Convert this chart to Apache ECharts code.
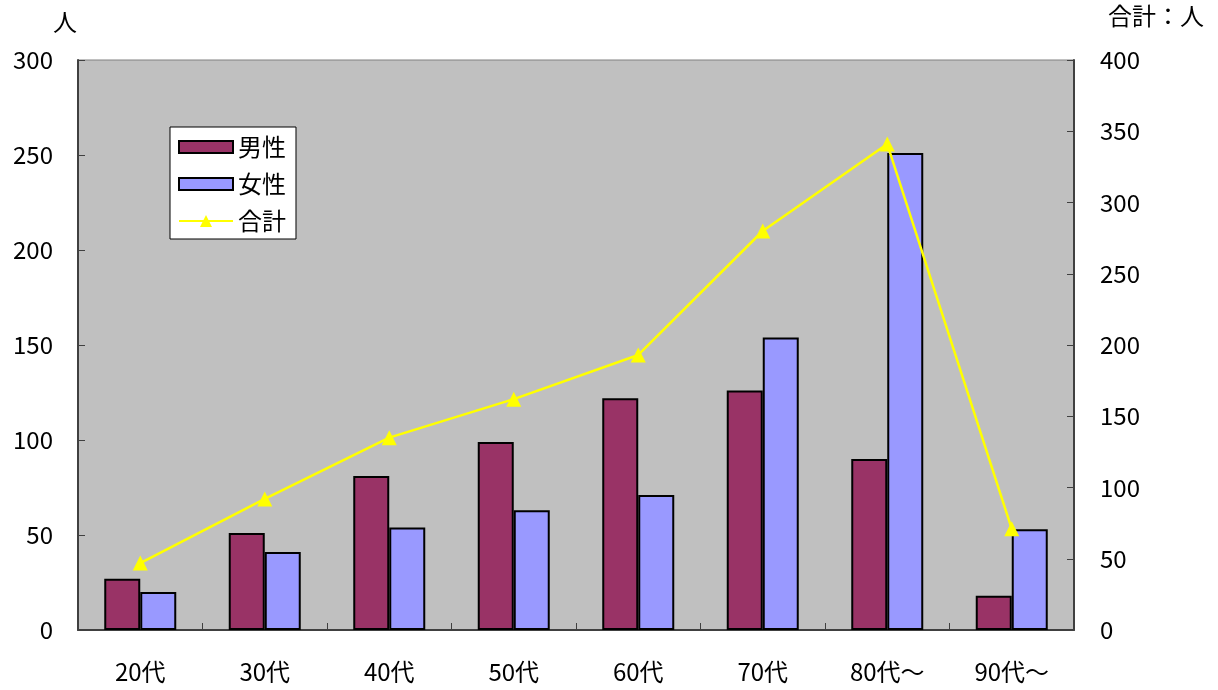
<!DOCTYPE html>
<html>
<head>
<meta charset="utf-8">
<script src="https://cdn.jsdelivr.net/npm/echarts@6/dist/echarts.min.js"></script>
<style>
html,body{margin:0;padding:0;background:#fff;}
#c{width:1218px;height:690px;}
</style>
</head>
<body>
<div id="c"></div>
<script>
const categories = ['20代','30代','40代','50代','60代','70代','80代～','90代～'];
const male = [27, 51, 81, 99, 122, 126, 90, 18];
const female = [20, 41, 54, 63, 71, 154, 251, 53];
const total = [47, 92, 135, 162, 193, 280, 341, 71];
const leftTicks = {min: 0, max: 300, interval: 50};
const rightTicks = {min: 0, max: 400, interval: 50};

const FONT = '"Noto Sans CJK JP", "Noto Sans", sans-serif';
const LINE_ICON = 'path://M0,5L24.5,5L27,0L29.5,5L54,5L54,7L30.5,7L33,12L21,12L23.5,7L0,7Z';
const chart = echarts.init(document.getElementById('c'), null, {renderer: 'canvas'});
const axisLineStyle = {color: '#404040', width: 2};
chart.setOption({
  animation: false,
  backgroundColor: '#ffffff',
  textStyle: {fontFamily: FONT},
  grid: {
    left: 78, right: 144, top: 60, bottom: 60,
    show: true, backgroundColor: '#C0C0C0', borderColor: '#808080', borderWidth: 1
  },
  legend: {
    orient: 'vertical',
    left: 170, top: 127,
    backgroundColor: '#ffffff',
    borderColor: '#000000', borderWidth: 1,
    padding: [8, 10, 6, 8],
    itemWidth: 54, itemHeight: 12, itemGap: 13,
    textStyle: {fontSize: 24, color: '#000', fontFamily: FONT, lineHeight: 24},
    data: [
      {name: '男性', icon: 'rect'},
      {name: '女性', icon: 'rect'},
      {name: '合計', icon: LINE_ICON, itemStyle: {color: '#FFFF00', borderWidth: 0}}
    ]
  },
  graphic: [
    {type: 'text', left: 53, top: 10, style: {text: '人', fill: '#000', font: '24px ' + FONT}},
    {type: 'text', left: 1108, top: 4, style: {text: '合計：人', fill: '#000', font: '24px ' + FONT}}
  ],
  xAxis: {
    type: 'category',
    data: categories,
    boundaryGap: true,
    axisLine: {lineStyle: axisLineStyle},
    axisTick: {show: true, inside: true, length: 7, lineStyle: {color: '#404040', width: 1}},
    axisLabel: {fontSize: 24, color: '#000', margin: 30, fontFamily: FONT}
  },
  yAxis: [
    {
      type: 'value', position: 'left',
      min: leftTicks.min, max: leftTicks.max, interval: leftTicks.interval,
      axisLine: {show: true, lineStyle: axisLineStyle},
      axisTick: {show: true, inside: true, length: 7, lineStyle: {color: '#404040', width: 1}},
      axisLabel: {fontSize: 24, color: '#000', margin: 25, fontFamily: FONT},
      splitLine: {show: false}
    },
    {
      type: 'value', position: 'right',
      min: rightTicks.min, max: rightTicks.max, interval: rightTicks.interval,
      axisLine: {show: true, lineStyle: axisLineStyle},
      axisTick: {show: true, inside: true, length: 7, lineStyle: {color: '#404040', width: 1}},
      axisLabel: {fontSize: 24, color: '#000', margin: 26, fontFamily: FONT},
      splitLine: {show: false}
    }
  ],
  series: [
    {
      name: '男性', type: 'bar', data: male, yAxisIndex: 0,
      barWidth: 36, barGap: '0%',
      itemStyle: {color: '#993366', borderColor: '#000', borderWidth: 2}
    },
    {
      name: '女性', type: 'bar', data: female, yAxisIndex: 0,
      barWidth: 36, barGap: '0%',
      itemStyle: {color: '#9999FF', borderColor: '#000', borderWidth: 2}
    },
    {
      name: '合計', type: 'line', data: total, yAxisIndex: 1,
      symbol: 'triangle', symbolSize: 15, showSymbol: true,
      lineStyle: {color: '#FFFF00', width: 2.5},
      itemStyle: {color: '#FFFF00'},
      z: 5
    }
  ]
});
</script>
</body>
</html>
